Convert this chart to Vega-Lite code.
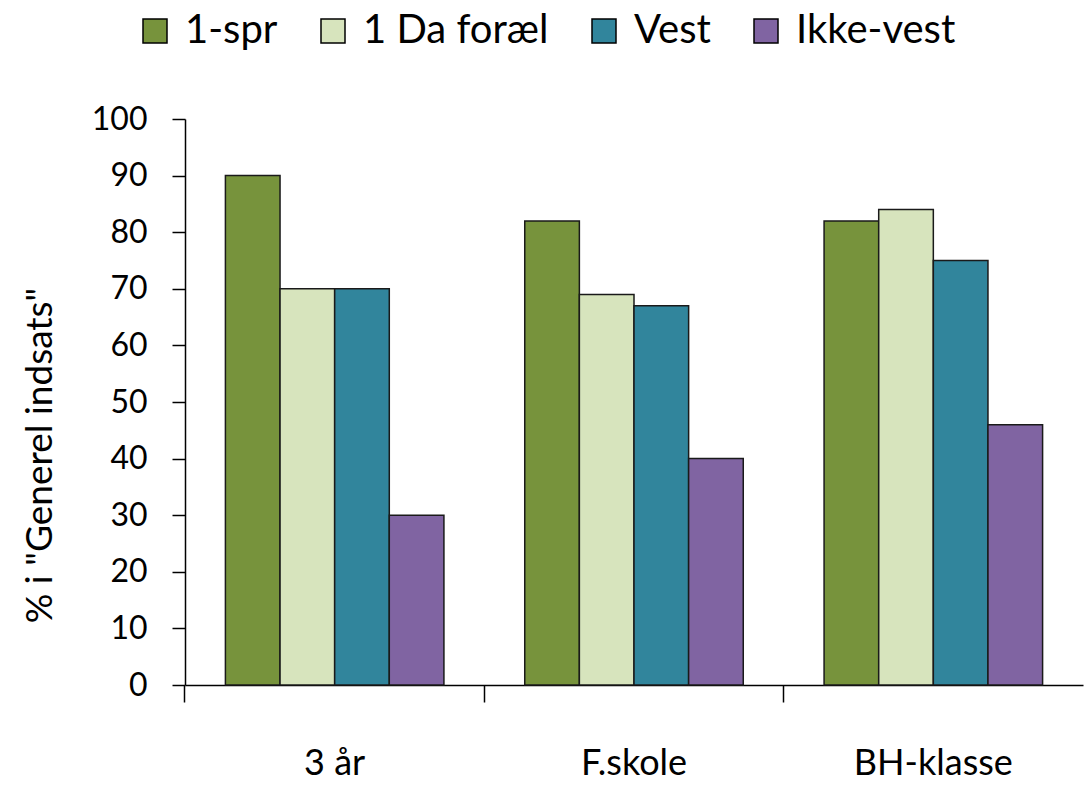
{
  "$schema": "https://vega.github.io/schema/vega-lite/v6.json",
  "autosize": "none",
  "width": 898,
  "height": 566,
  "padding": {"left": 185, "top": 119, "right": 6, "bottom": 101},
  "background": "white",
  "config": {
    "font": "Lato",
    "view": {"stroke": null},
    "axis": {"domainColor": "black", "tickColor": "black", "labelColor": "black", "titleColor": "black", "domainWidth": 1.5, "tickWidth": 1.5, "grid": false, "labelFont": "Lato", "titleFont": "Lato", "titleFontWeight": "normal"}
  },
  "data": {
    "values": [
      {"group": "3 år", "series": "1-spr", "value": 90},
      {"group": "3 år", "series": "1 Da foræl", "value": 70},
      {"group": "3 år", "series": "Vest", "value": 70},
      {"group": "3 år", "series": "Ikke-vest", "value": 30},
      {"group": "F.skole", "series": "1-spr", "value": 82},
      {"group": "F.skole", "series": "1 Da foræl", "value": 69},
      {"group": "F.skole", "series": "Vest", "value": 67},
      {"group": "F.skole", "series": "Ikke-vest", "value": 40},
      {"group": "BH-klasse", "series": "1-spr", "value": 82},
      {"group": "BH-klasse", "series": "1 Da foræl", "value": 84},
      {"group": "BH-klasse", "series": "Vest", "value": 75},
      {"group": "BH-klasse", "series": "Ikke-vest", "value": 46}
    ]
  },
  "mark": {"type": "bar", "stroke": "#1a1a1a", "strokeWidth": 1.5},
  "encoding": {
    "x": {
      "field": "group", "type": "nominal", "sort": ["3 år", "F.skole", "BH-klasse"],
      "scale": {"paddingInner": 0.27, "paddingOuter": 0.135},
      "axis": {"title": null, "labelAngle": 0, "labelFontSize": 36, "labelPadding": 44, "tickSize": 17, "bandPosition": -0.185}
    },
    "xOffset": {"field": "series", "type": "nominal", "sort": ["1-spr", "1 Da foræl", "Vest", "Ikke-vest"]},
    "y": {
      "field": "value", "type": "quantitative",
      "scale": {"domain": [0, 100], "nice": false},
      "axis": {"values": [0,10,20,30,40,50,60,70,80,90,100], "title": "% i \"Generel indsats\"", "labelFontSize": 32, "labelPadding": 25, "tickSize": 13, "titleFontSize": 37, "titleX": -145, "titleY": 336, "titleAlign": "center", "titleBaseline": "middle", "titleAngle": -90}
    },
    "color": {
      "field": "series", "type": "nominal", "sort": ["1-spr", "1 Da foræl", "Vest", "Ikke-vest"],
      "scale": {"domain": ["1-spr", "1 Da foræl", "Vest", "Ikke-vest"], "range": ["#77933C", "#D7E4BD", "#31859C", "#8064A2"]},
      "legend": {"title": null, "orient": "none", "legendX": -50, "legendY": -108, "direction": "horizontal", "symbolType": "square", "symbolSize": 576, "symbolStrokeColor": "black", "symbolStrokeWidth": 1.5, "labelFontSize": 40, "labelLimit": 0, "labelOffset": 10, "columnPadding": 35, "labelColor": "black", "labelFont": "Lato"}
    }
  }
}
